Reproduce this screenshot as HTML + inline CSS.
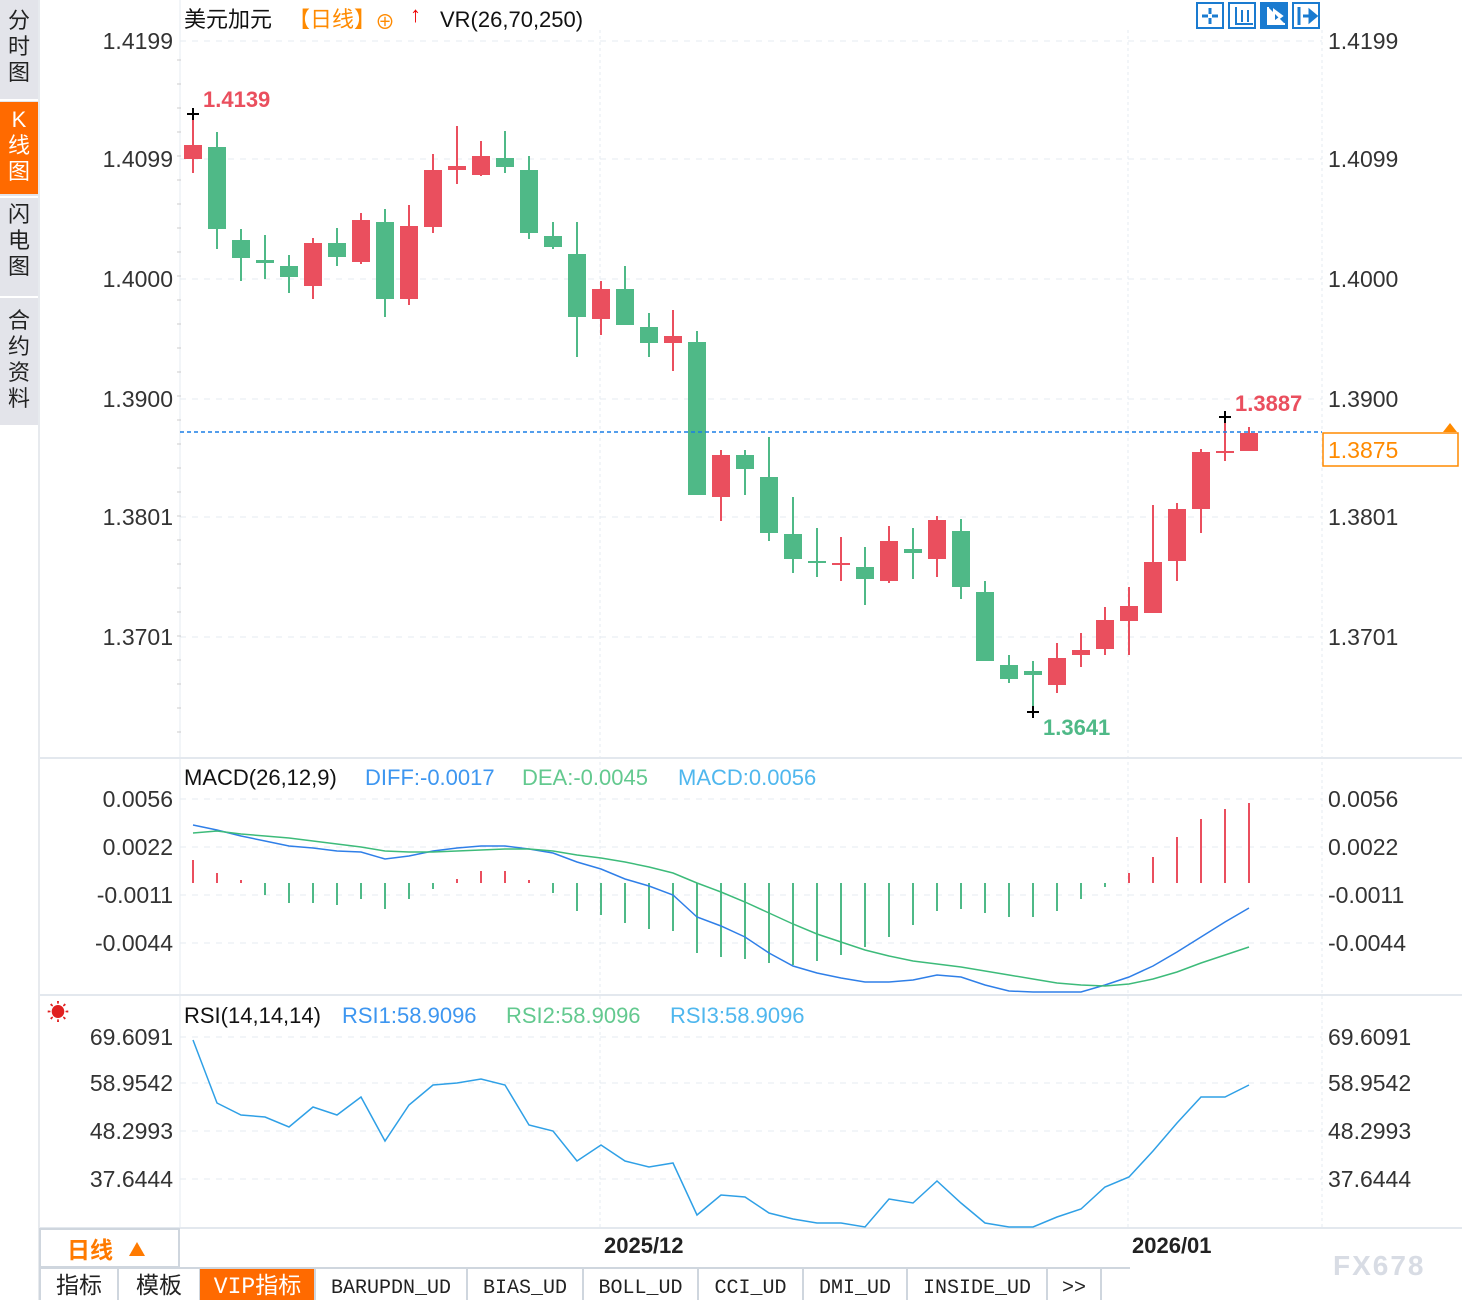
<!DOCTYPE html>
<html><head><meta charset="utf-8"><style>
body{margin:0;background:#fff;width:1462px;height:1300px;overflow:hidden;font-family:"Liberation Sans","Noto Sans CJK SC",sans-serif;}
svg{position:absolute;left:0;top:0}
</style></head><body>
<svg id="s" width="1462" height="1300" xmlns="http://www.w3.org/2000/svg" font-family="Liberation Sans, Noto Sans CJK SC, sans-serif"></svg>
<script>
const C=[[145,159,113,173,1],[147,229,132,249,0],[240,258,229,281,0],[260,263,235,279,0],[266,277,255,293,0],[243,286,238,299,1],[243,257,228,266,0],[220,262,213,264,1],[222,299,209,317,0],[226,299,205,305,1],[170,227,154,233,1],[166,170,126,184,1],[156,175,141,176,1],[158,167,131,173,0],[170,233,156,239,0],[236,247,222,249,0],[254,317,222,357,0],[289,319,281,335,1],[289,325,266,325,0],[327,343,313,357,0],[336,343,310,371,1],[342,495,331,495,0],[455,497,450,521,1],[455,469,450,495,0],[477,533,437,541,0],[534,559,497,573,0],[561,563,528,577,0],[563,565,537,581,1],[567,579,547,605,0],[541,581,526,583,1],[549,553,528,579,0],[520,559,516,577,1],[531,587,519,599,0],[592,661,581,661,0],[665,679,655,683,0],[671,675,661,712,0],[658,685,643,693,1],[650,655,633,667,1],[620,649,607,655,1],[606,621,587,655,1],[562,613,505,613,1],[509,561,503,581,1],[452,509,449,533,1],[451,453,417,461,1],[433,451,427,451,1]];
const M=[860,873,880,895,903,903,905,899,909,899,889,879,871,871,880,893,911,915,923,929,931,953,957,959,963,965,961,955,947,937,925,911,909,913,917,917,911,899,887,873,857,837,819,809,803];
const D=[825,830,836,841,846,848,851,852,859,856,851,848,846,846,849,853,862,869,879,886,895,917,926,937,953,966,973,978,982,982,980,975,977,985,991,992,992,992,985,977,966,952,937,922,908];
const E=[833,831,834,836,838,841,844,847,851,852,852,851,850,849,849,851,855,858,862,867,873,883,892,902,913,924,934,942,950,956,961,964,967,971,975,979,983,985,986,984,979,972,963,955,947];
const R=[1040,1103,1115,1117,1127,1107,1115,1097,1141,1105,1085,1083,1079,1085,1125,1131,1161,1145,1161,1167,1163,1215,1195,1197,1213,1219,1223,1223,1227,1199,1203,1181,1203,1223,1227,1227,1217,1209,1187,1177,1151,1123,1097,1097,1085];
const RED="#ea4f5e",GRN="#4fb987";
const X=i=>193+i*24;
let h='';
h+='<rect x="0" y="0" width="39" height="1300" fill="#fff"/><rect x="0" y="0" width="38" height="425" fill="#e3e4ea"/><rect x="0" y="102" width="38" height="92" fill="#ff6a00"/>';
h+='<line x1="39" y1="0" x2="39" y2="1300" stroke="#cfd6de"/>';
const tabs=[["分时图",6,28],["K线图",104,127],["闪电图",200,222],["合约资料",300,328]];
tabs.forEach((t,k)=>{[...t[0]].forEach((c,j)=>{h+=`<text x="19" y="${t[2]+j*26}" text-anchor="middle" font-size="22" fill="${k==1?'#fff':'#222'}">${c}</text>`});
 if(k<3)h+=`<line x1="0" x2="38" y1="${[100,197,297][k]}" y2="${[100,197,297][k]}" stroke="#fff" stroke-width="2"/>`});
h+='<line x1="180" y1="0" x2="180" y2="1228" stroke="#e6ebf0"/>';
[600,1128,1322].forEach(x=>h+=`<line x1="${x}" y1="30" x2="${x}" y2="1228" stroke="#e6ebf0" stroke-dasharray="3,3"/>`);
[758,995,1228].forEach(y=>h+=`<line x1="40" y1="${y}" x2="1462" y2="${y}" stroke="#e3e8ee" stroke-width="2"/>`);
function lev(y,t){h+=`<line x1="180" y1="${y}" x2="1322" y2="${y}" stroke="#e6ebf0" stroke-dasharray="6,6"/>`;
 h+=`<text x="173" y="${y+8}" text-anchor="end" font-size="23" fill="#333">${t}</text><text x="1328" y="${y+8}" font-size="23" fill="#333">${t}</text>`;}
[[41,"1.4199"],[159,"1.4099"],[279,"1.4000"],[399,"1.3900"],[517,"1.3801"],[637,"1.3701"]].forEach(a=>lev(...a));
[[799,"0.0056"],[847,"0.0022"],[895,"-0.0011"],[943,"-0.0044"]].forEach(a=>lev(...a));
[[1037,"69.6091"],[1083,"58.9542"],[1131,"48.2993"],[1179,"37.6444"]].forEach(a=>lev(...a));
for(let y=60;y<740;y+=24){h+=`<line x1="177" x2="181" y1="${y}" y2="${y}" stroke="#ccc"/>`}
h+='<text x="184" y="27" font-size="22" fill="#111">美元加元</text><text x="288" y="27" font-size="22" fill="#ff8a00">【日线】</text><text x="375" y="29" font-size="20" fill="#ff8a00">⊕</text>';
h+='<text x="410" y="22" font-size="22" fill="#e00" font-weight="bold">↑</text><text x="440" y="27" font-size="22" fill="#111">VR(26,70,250)</text>';
[1197,1229,1261,1293].forEach((x,k)=>{h+=`<rect x="${x}" y="3" width="26" height="25" fill="${k==2?'#1a7bd0':'#fff'}" stroke="#1a7bd0" stroke-width="2"/>`;});
h+='<path d="M1210 8v6M1210 18v6M1202 16h6M1212 16h6" stroke="#1a7bd0" stroke-width="3"/>';
h+='<path d="M1236 7v17h17M1242 10v12M1248 10v12" stroke="#1a7bd0" stroke-width="2" fill="none"/>';
h+='<path d="M1268 7v17h17M1274 10l8 6-8 6z" stroke="#fff" stroke-width="2" fill="#fff"/>';
h+='<path d="M1299 7v18M1303 16h10M1310 11l6 5-6 5z" stroke="#1a7bd0" stroke-width="3" fill="#1a7bd0"/>';
C.forEach((c,i)=>{const x=X(i),col=c[4]?RED:GRN;const t=Math.min(c[0],c[1]),b=Math.max(c[0],c[1]);
 h+=`<line x1="${x}" x2="${x}" y1="${c[2]}" y2="${c[3]}" stroke="${col}" stroke-width="2"/><rect x="${x-9}" y="${t}" width="18" height="${Math.max(b-t,2)}" fill="${col}"/>`;});
h+='<path d="M187 114h12M193 108v12M1027 712h12M1033 706v12M1219 417h12M1225 411v12" stroke="#000" stroke-width="2"/>';
h+=`<text x="203" y="107" font-size="22" font-weight="bold" fill="${RED}">1.4139</text><text x="1043" y="735" font-size="22" font-weight="bold" fill="${GRN}">1.3641</text><text x="1235" y="411" font-size="22" font-weight="bold" fill="${RED}">1.3887</text>`;
h+='<line x1="180" x2="1322" y1="432" y2="432" stroke="#1a7ee6" stroke-width="1.5" stroke-dasharray="4,3"/>';
h+='<rect x="1323" y="433" width="135" height="33" fill="#fff" stroke="#ff8a00" stroke-width="1.5"/><text x="1328" y="458" font-size="23" fill="#ff8a00">1.3875</text><path d="M1443 432l7-9 7 9z" fill="#ff8a00"/>';
h+='<text x="184" y="785" font-size="22" fill="#111">MACD(26,12,9)</text><text x="365" y="785" font-size="22" fill="#3d96f0">DIFF:-0.0017</text><text x="522" y="785" font-size="22" fill="#63c98f">DEA:-0.0045</text><text x="678" y="785" font-size="22" fill="#4fb7ee">MACD:0.0056</text>';
M.forEach((m,i)=>{h+=`<line x1="${X(i)}" x2="${X(i)}" y1="883" y2="${m}" stroke="${m<883?RED:GRN}" stroke-width="2"/>`});
const pl=(a,col)=>h+=`<polyline fill="none" stroke="${col}" stroke-width="1.5" points="${a.map((y,i)=>X(i)+','+y).join(' ')}"/>`;
pl(D,"#2f7fe8");pl(E,"#3dbb7a");
h+='<text x="58" y="1020" font-size="22" fill="#e02020" text-anchor="middle">☀</text>';
h+='<text x="184" y="1023" font-size="22" fill="#111">RSI(14,14,14)</text><text x="342" y="1023" font-size="22" fill="#3d96f0">RSI1:58.9096</text><text x="506" y="1023" font-size="22" fill="#63c98f">RSI2:58.9096</text><text x="670" y="1023" font-size="22" fill="#4fb7ee">RSI3:58.9096</text>';
pl(R,"#2fa0e6");
h+='<rect x="40" y="1229" width="139" height="38" fill="#fff" stroke="#cfd6de" stroke-width="2"/><text x="67" y="1258" font-size="23" font-weight="bold" fill="#ff7a00">日线</text><path d="M129 1256l8-14 8 14z" fill="#ff7a00"/>';
h+='<text x="604" y="1253" font-size="22" font-weight="bold" fill="#222">2025/12</text><text x="1132" y="1253" font-size="22" font-weight="bold" fill="#222">2026/01</text>';
h+='<text x="1333" y="1275" font-size="28" font-weight="bold" fill="#d8dce4" letter-spacing="2">FX678</text>';
h+='<line x1="40" x2="1130" y1="1268" y2="1268" stroke="#cfd6de" stroke-width="2"/>';
const bt=[["指标",40,118],["模板",118,200],["VIP指标",200,315],["BARUPDN_UD",315,467],["BIAS_UD",467,583],["BOLL_UD",583,698],["CCI_UD",698,803],["DMI_UD",803,907],["INSIDE_UD",907,1047],[">>",1047,1101]];
bt.forEach((b,k)=>{if(k==2)h+=`<rect x="${b[1]}" y="1269" width="${b[2]-b[1]}" height="31" fill="#ff6a00"/>`;
 h+=`<line x1="${b[2]}" x2="${b[2]}" y1="1268" y2="1300" stroke="#cfd6de" stroke-width="2"/><text x="${(b[1]+b[2])/2}" y="1293" text-anchor="middle" font-size="${k<3?23:20}" font-family="Liberation Mono, Noto Sans CJK SC, monospace" fill="${k==2?'#fff':'#222'}">${b[0]}</text>`;});
h+='<line x1="40" x2="40" y1="1268" y2="1300" stroke="#cfd6de" stroke-width="2"/>';
document.getElementById('s').innerHTML=h;
</script>
</body></html>
